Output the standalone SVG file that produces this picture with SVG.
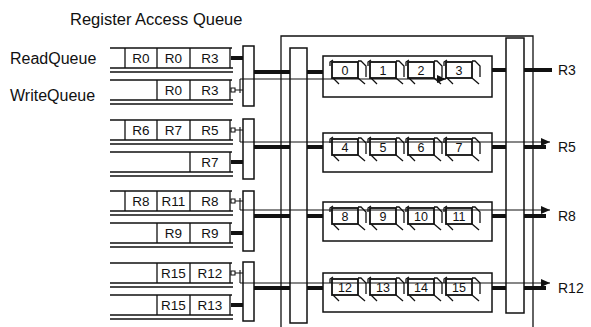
<svg xmlns="http://www.w3.org/2000/svg" xmlns:xlink="http://www.w3.org/1999/xlink" width="591" height="327" viewBox="0 0 591 327">
<style>
text{font-family:"Liberation Sans",Arial,sans-serif;fill:#111}
.t{font-size:16.5px}
.lab{font-size:16px}
.q{font-size:13.5px;text-anchor:middle}
.n{font-size:12.5px;text-anchor:middle}
.o{font-size:14px}
.ln{stroke:#111;stroke-width:1.3;fill:none}
.bx{fill:#fff;stroke:#111;stroke-width:1.5}
.thk{stroke:#111;stroke-width:4;fill:none}
.thin{stroke:#111;stroke-width:1.1;fill:none}
.cl rect{fill:none;stroke:#111;stroke-width:1.8}
.cl path{fill:none;stroke:#111;stroke-width:1.3}
</style>
<defs>
<marker id="ah" markerUnits="userSpaceOnUse" markerWidth="10" markerHeight="9" refX="9" refY="4" orient="auto">
<path d="M0 0 L9 4 L0 8 z" fill="#111"/>
</marker>
<g id="cell" class="cl">
<rect x="0" y="0" width="26" height="16"/>
<path d="M-2 4 V0 L1 -2"/>
<path d="M26 -1 H29 L34 4 V15"/>
<path d="M1 16 L7 22"/>
<path d="M26 16 L33 22"/>
</g>
</defs>
<rect width="591" height="327" fill="#fff"/>

<g id="title"><text class="t" x="70" y="25">Register Access Queue</text></g>
<g id="label-read"><text class="lab" x="10" y="64">ReadQueue</text></g>
<g id="label-write"><text class="lab" x="10" y="101">WriteQueue</text></g>

<g id="frame"><path class="ln" d="M281 330 V36 H533 V330"/></g>

<!-- Queue rows -->
<g id="q1-read">
<path class="ln" d="M110 48H232 M110 68H233 M110 72H233 M125 48V68 M157 48V68 M190 48V68 M230 48V68"/>
<text class="q" x="141" y="63">R0</text><text class="q" x="173.5" y="63">R0</text><text class="q" x="210" y="63">R3</text>
</g>
<g id="q1-write">
<path class="ln" d="M110 80H232 M110 100H233 M110 104H233 M157 80V100 M190 80V100 M230 80V100"/>
<text class="q" x="173.5" y="95">R0</text><text class="q" x="210" y="95">R3</text>
</g>
<g id="q2-a">
<path class="ln" d="M110 120H232 M110 140H233 M110 144H233 M125 120V140 M157 120V140 M190 120V140 M230 120V140"/>
<text class="q" x="141" y="135">R6</text><text class="q" x="173.5" y="135">R7</text><text class="q" x="210" y="135">R5</text>
</g>
<g id="q2-b">
<path class="ln" d="M110 152H232 M110 172H233 M110 176H233 M190 152V172 M230 152V172"/>
<text class="q" x="210" y="167">R7</text>
</g>
<g id="q3-a">
<path class="ln" d="M110 191H232 M110 211H233 M110 215H233 M125 191V211 M157 191V211 M190 191V211 M230 191V211"/>
<text class="q" x="141" y="206">R8</text><text class="q" x="173.5" y="206">R11</text><text class="q" x="210" y="206">R8</text>
</g>
<g id="q3-b">
<path class="ln" d="M110 223H232 M110 243H233 M110 247H233 M157 223V243 M190 223V243 M230 223V243"/>
<text class="q" x="173.5" y="238">R9</text><text class="q" x="210" y="238">R9</text>
</g>
<g id="q4-a">
<path class="ln" d="M110 263H232 M110 283H233 M110 287H233 M157 263V283 M190 263V283 M230 263V283"/>
<text class="q" x="173.5" y="278">R15</text><text class="q" x="210" y="278">R12</text>
</g>
<g id="q4-b">
<path class="ln" d="M110 295H232 M110 315H233 M110 319H233 M157 295V315 M190 295V315 M230 295V315"/>
<text class="q" x="173.5" y="310">R15</text><text class="q" x="210" y="310">R13</text>
</g>

<!-- Mux boxes -->
<g id="mux1"><rect class="bx" x="243" y="46" width="11" height="60"/></g>
<g id="mux2"><rect class="bx" x="243" y="119" width="11" height="60"/></g>
<g id="mux3"><rect class="bx" x="243" y="191" width="11" height="60"/></g>
<g id="mux4"><rect class="bx" x="243" y="262" width="11" height="59"/></g>

<!-- Bars -->
<g id="bar-left"><rect class="bx" x="290" y="48" width="17" height="275"/></g>
<g id="bar-right"><rect class="bx" x="506" y="38" width="18" height="275"/></g>

<!-- Banks -->
<g id="bank1">
<rect class="bx" x="323" y="56" width="169" height="41"/>
<use xlink:href="#cell" x="332" y="62"/><use xlink:href="#cell" x="370" y="62"/><use xlink:href="#cell" x="408" y="62"/><use xlink:href="#cell" x="446" y="62"/>
<text class="n" x="345" y="75">0</text><text class="n" x="383" y="75">1</text><text class="n" x="421" y="75">2</text><text class="n" x="459" y="75">3</text>
</g>
<g id="bank2">
<rect class="bx" x="323" y="133" width="169" height="39"/>
<use xlink:href="#cell" x="332" y="139"/><use xlink:href="#cell" x="370" y="139"/><use xlink:href="#cell" x="408" y="139"/><use xlink:href="#cell" x="446" y="139"/>
<text class="n" x="345" y="152">4</text><text class="n" x="383" y="152">5</text><text class="n" x="421" y="152">6</text><text class="n" x="459" y="152">7</text>
</g>
<g id="bank3">
<rect class="bx" x="323" y="202" width="169" height="39"/>
<use xlink:href="#cell" x="332" y="208"/><use xlink:href="#cell" x="370" y="208"/><use xlink:href="#cell" x="408" y="208"/><use xlink:href="#cell" x="446" y="208"/>
<text class="n" x="345" y="221">8</text><text class="n" x="383" y="221">9</text><text class="n" x="421" y="221">10</text><text class="n" x="459" y="221">11</text>
</g>
<g id="bank4">
<rect class="bx" x="323" y="273" width="169" height="39"/>
<use xlink:href="#cell" x="332" y="279"/><use xlink:href="#cell" x="370" y="279"/><use xlink:href="#cell" x="408" y="279"/><use xlink:href="#cell" x="446" y="279"/>
<text class="n" x="345" y="292">12</text><text class="n" x="383" y="292">13</text><text class="n" x="421" y="292">14</text><text class="n" x="459" y="292">15</text>
</g>

<!-- Output labels -->
<g id="out-r3"><text class="o" x="558" y="75">R3</text></g>
<g id="out-r5"><text class="o" x="558" y="152">R5</text></g>
<g id="out-r8"><text class="o" x="558" y="221">R8</text></g>
<g id="out-r12"><text class="o" x="558" y="293">R12</text></g>

<!-- Connectors -->
<g id="connectors">
<path class="thk" d="M231 58H243 M231 162H243 M231 233H243 M231 305H243"/>
<path class="thk" d="M254 72H290 M307 72H323 M254 147H290 M307 147H323 M254 216H290 M307 216H323 M254 288H290 M307 288H323"/>
<path class="thk" d="M492 70H506 M524 70H552 M492 147H506 M524 147H546 M492 216H506 M524 216H546 M492 288H506 M524 288H546"/>
<path class="thin" d="M231 88h4v4h-4z M235 90H243 M240 93V79 M231 128h4v4h-4z M235 130H243 M240 127V142 M231 199h4v4h-4z M235 201H243 M240 198V210 M231 271h4v4h-4z M235 273H243 M240 270V283"/>
<path class="thin" d="M240 79H446" marker-end="url(#ah)"/>
<path class="thin" d="M240 142H550" marker-end="url(#ah)"/>
<path class="thin" d="M240 210H550" marker-end="url(#ah)"/>
<path class="thin" d="M240 283H550" marker-end="url(#ah)"/>
</g>
</svg>
